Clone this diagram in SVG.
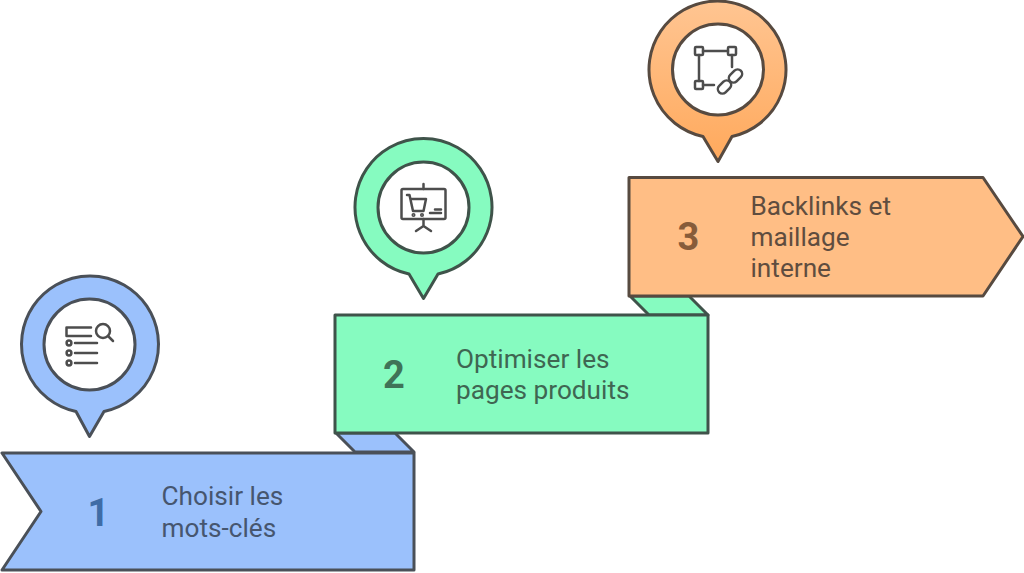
<svg xmlns="http://www.w3.org/2000/svg" width="1024" height="573" viewBox="0 0 1024 573">
<style>
.o{stroke-width:3;stroke-linejoin:round}
.blue{fill:#9bc1fc;stroke:#4a5058}
.green{fill:#86fbc0;stroke:#3f534a}
.orange{fill:#ffbe85;stroke:#574a40}
.in{fill:#fff;stroke-width:3}
.ic{fill:none;stroke:#4d4d4d;stroke-width:2.500;stroke-linecap:round;stroke-linejoin:round}
text{font-family:Roboto,"Liberation Sans",sans-serif}
.n{font-size:38px;font-weight:700;text-anchor:middle}
.t{font-size:26.200px}
</style>
<defs>
<linearGradient id="og" x1="0" y1="0" x2="0" y2="1"><stop offset="0" stop-color="#ffc592"/><stop offset="1" stop-color="#ffa95c"/></linearGradient>
</defs>
<rect width="1024" height="573" fill="#fff"/>
<g id="connectors">
<path class="o blue" d="M336 433H395L414 452H355Z"/>
<path class="o green" d="M630 296H689L708 315H649Z"/>
</g>
<g id="node-1">
<path class="o blue" d="M2 453H414V570H2L41 511.500Z"/>
<text class="n" x="98.500" y="525.500" fill="#3f6ca6">1</text>
<text class="t" fill="#46566f" x="161.500" y="504.500">Choisir les</text>
<text class="t" fill="#46566f" x="161.500" y="536.500">mots-clés</text>
</g>
<g id="pin-1">
<path class="o blue" d="M76 411.500A68.500 68.500 0 1 1 104 411.500L89.500 436.500Z"/>
<circle class="in" cx="89.500" cy="344.500" r="45.500" stroke="#4a5058"/>
<g class="ic">
<path d="M91 327.500H66.500V336H91"/>
<circle cx="103" cy="331" r="7"/>
<path d="M108 336L113 341"/>
<circle cx="69" cy="343" r="2.400"/><circle cx="69" cy="353" r="2.400"/><circle cx="69" cy="363" r="2.400"/>
<path d="M75 343H97M75 353H97M75 363H97"/>
</g>
</g>
<g id="node-2">
<rect class="o green" x="335" y="315" width="373" height="118"/>
<text class="n" x="394" y="387.500" fill="#3f7358">2</text>
<text class="t" fill="#3f6652" x="456" y="367.500">Optimiser les</text>
<text class="t" fill="#3f6652" x="456" y="398.500">pages produits</text>
</g>
<g id="pin-2">
<path class="o green" d="M409 274A68.500 68.500 0 1 1 438 274L423.500 298.500Z"/>
<circle class="in" cx="423.500" cy="207.500" r="45.500" stroke="#3f534a"/>
<g class="ic">
<rect x="401.500" y="189" width="44" height="30" rx="1.500"/>
<path d="M423.500 184V189M423.500 219V226M423.500 226L416 231M423.500 226L431 231"/>
<path d="M407 195H409.500L413 211H423.500L426 199H410.500"/>
<circle cx="413.500" cy="215" r=".8"/><circle cx="422" cy="215" r=".8"/>
<path d="M435 209.500H441M430 213H441"/>
</g>
</g>
<g id="node-3">
<path class="o orange" d="M629 177.500H983L1023 236.500L983 296H629Z"/>
<text class="n" x="688.500" y="250" fill="#875c3a">3</text>
<text class="t" fill="#5f4d3f" x="750.500" y="214.500">Backlinks et</text>
<text class="t" fill="#5f4d3f" x="750.500" y="245.500">maillage</text>
<text class="t" fill="#5f4d3f" x="750.500" y="276.500">interne</text>
</g>
<g id="pin-3">
<path class="o orange" style="fill:url(#og)" d="M703 136.500A68.500 68.500 0 1 1 732 136.500L718 161.500Z"/>
<circle class="in" cx="718" cy="69.500" r="45.500" stroke="#574a40"/>
<g class="ic">
<rect x="695" y="47" width="8" height="8" rx="1"/>
<rect x="728" y="47" width="8" height="8" rx="1"/>
<rect x="695" y="81" width="8" height="8" rx="1"/>
<path d="M703 51H728M699 55V81M703 85H714M732 55V67"/>
<rect x="717" y="82.500" width="15" height="9" rx="4.500" transform="rotate(-45 724.500 87)"/>
<rect x="728" y="71.500" width="15" height="9" rx="4.500" transform="rotate(-45 735.500 76)"/>
</g>
</g>
</svg>
